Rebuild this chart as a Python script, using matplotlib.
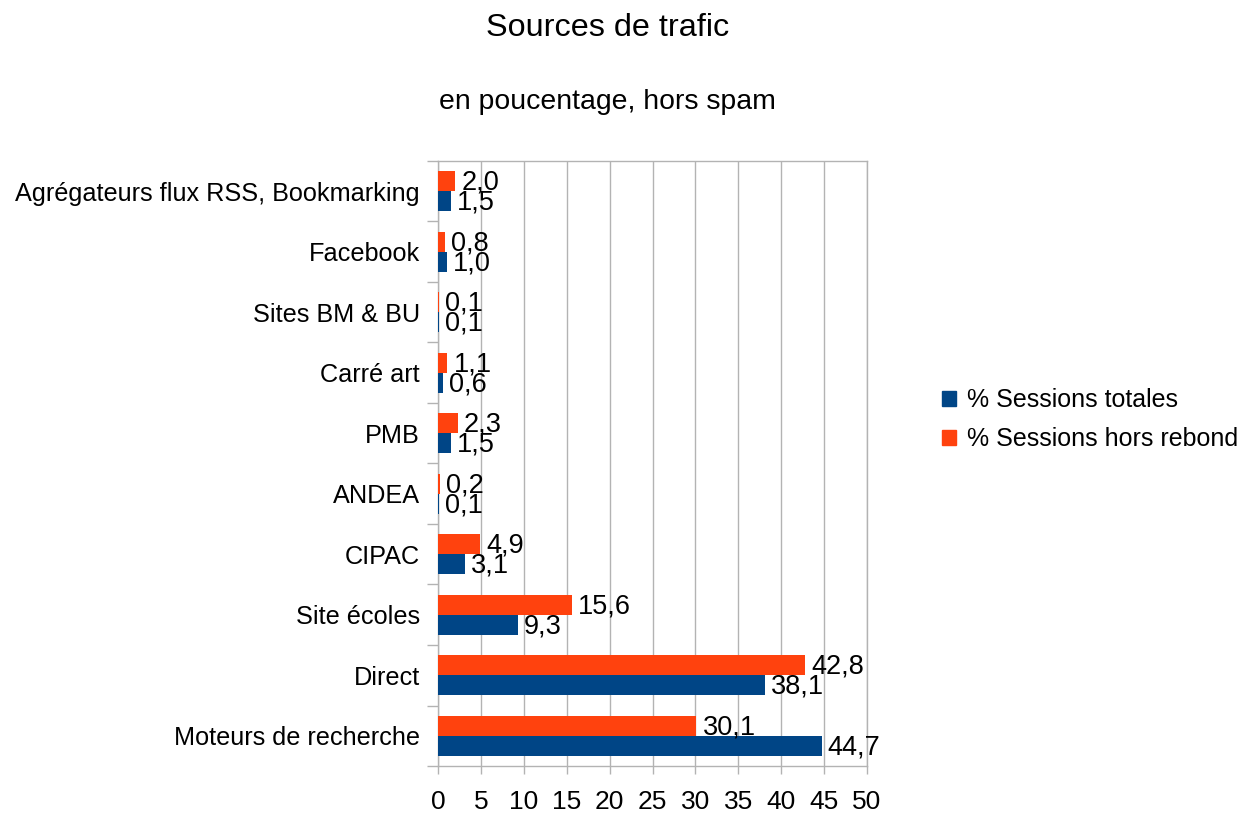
import matplotlib
matplotlib.use("Agg")
import matplotlib.pyplot as plt
import numpy as np
from matplotlib.patches import Patch
from matplotlib.ticker import FixedLocator, NullFormatter

plt.rcParams['font.family'] = ['Liberation Sans', 'DejaVu Sans']

categories = ["Moteurs de recherche", "Direct", "Site écoles", "CIPAC", "ANDEA",
              "PMB", "Carré art", "Sites BM & BU", "Facebook",
              "Agrégateurs flux RSS, Bookmarking"]
sessions_totales = [44.7, 38.1, 9.3, 3.1, 0.1, 1.5, 0.6, 0.1, 1.0, 1.5]
sessions_hors_rebond = [30.1, 42.8, 15.6, 4.9, 0.2, 2.3, 1.1, 0.1, 0.8, 2.0]
series_names = ["% Sessions totales", "% Sessions hors rebond"]
colors = ["#004586", "#ff420e"]
xticks = list(range(0, 51, 5))

fig = plt.figure(figsize=(12.43, 8.13), dpi=100)
ax = fig.add_axes([0.3524, 0.0578, 0.3451, 0.7442])

y = np.arange(len(categories))
h = 0.33
ax.barh(y - h / 2, sessions_totales, height=h, color=colors[0], zorder=3)
ax.barh(y + h / 2, sessions_hors_rebond, height=h, color=colors[1], zorder=3)

def fmt(v):
    return f"{v:.1f}".replace(".", ",")

for yi, v in zip(y, sessions_totales):
    ax.annotate(fmt(v), (v, yi - h / 2), xytext=(4.5, -1), textcoords="offset points",
                va="center", ha="left", fontsize=19.5, zorder=4)
for yi, v in zip(y, sessions_hors_rebond):
    ax.annotate(fmt(v), (v, yi + h / 2), xytext=(4.5, -1), textcoords="offset points",
                va="center", ha="left", fontsize=19.5, zorder=4)

ax.set_xlim(0, 50)
ax.set_ylim(-0.5, len(categories) - 0.5)
ax.set_xticks(xticks)
ax.set_xticklabels([str(t) for t in xticks], fontsize=19)
ax.set_yticks(y)
ax.set_yticklabels(categories, fontsize=18.2)
ax.yaxis.set_minor_locator(FixedLocator(np.arange(-0.5, len(categories), 1.0)))
ax.yaxis.set_minor_formatter(NullFormatter())
ax.tick_params(axis="y", which="major", length=0, pad=13)
ax.tick_params(axis="y", which="minor", length=8, color="#b3b3b3", width=1)
ax.tick_params(axis="x", which="major", length=6, color="#b3b3b3", width=1, pad=11)
ax.grid(axis="x", color="#b3b3b3", linewidth=1, zorder=0)
for s in ax.spines.values():
    s.set_color("#b3b3b3")
    s.set_linewidth(1)

fig.text(0.489, 0.965, "Sources de trafic", ha="center", va="center", fontsize=23.3)
fig.text(0.489, 0.874, "en poucentage, hors spam", ha="center", va="center", fontsize=20.4)

handles = [Patch(color=c) for c in colors]
fig.legend(handles, series_names, loc="center left", bbox_to_anchor=(0.74, 0.484),
           frameon=False, fontsize=18, handlelength=0.55, handleheight=0.55,
           handletextpad=0.45, labelspacing=0.6)

fig.savefig("out.png", dpi=100)
